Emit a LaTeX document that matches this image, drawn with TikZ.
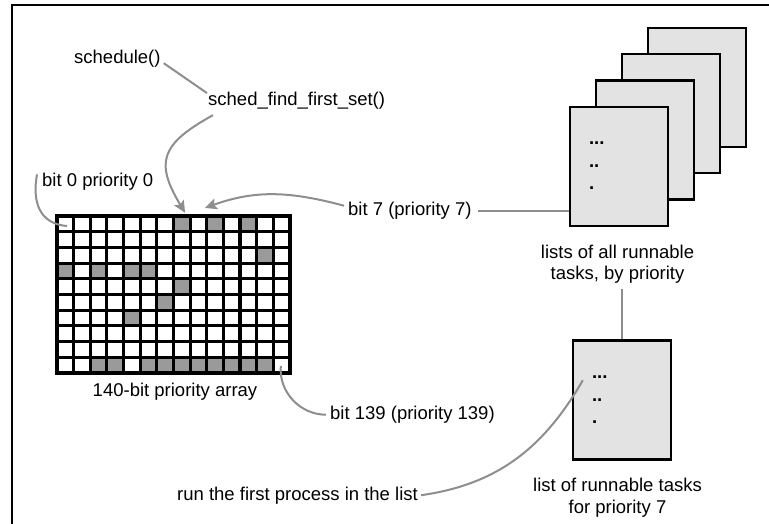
\documentclass[tikz,border=0pt]{standalone}
\usepackage{fontspec}
\setmainfont{Liberation Sans}
\usetikzlibrary{arrows.meta,calc}
\definecolor{cellgray}{HTML}{9A9A9A}
\definecolor{boxfill}{HTML}{E3E3E3}
\definecolor{wirecol}{HTML}{8E8E8E}

\begin{document}
\begin{tikzpicture}[x=1pt,y=-1pt,
  every node/.style={font=\fontsize{18.5}{21}\selectfont, inner sep=0pt},
  txt/.style={anchor=base west},
  wire/.style={draw=wirecol, line width=2pt},
  arrowed/.style={-{Stealth[length=12pt,width=11pt,inset=2.5pt]}},
  listbox/.style={draw=black, line width=2.4pt, fill=boxfill,
                  minimum width=98pt, minimum height=119pt},
  dots/.style={anchor=base west, font=\fontsize{18.5}{21}\selectfont\bfseries}
]
\useasboundingbox (0,0) rectangle (769,524);

% frame
\draw[line width=1.6pt] (12,524) -- (12,5) -- (769,5);

% 140-bit priority array: 14 columns x 10 rows
\begin{scope}[shift={(57,216)}, x=16.64pt, y=-15.7pt]
  \foreach \r/\c in {0/7,0/9,0/11,2/12,3/0,3/2,3/4,3/5,4/7,5/6,6/4,
                     9/2,9/3,9/5,9/6,9/7,9/8,9/9,9/10,9/11,9/12}
    \fill[cellgray] (\c,\r) rectangle ++(1,1);
  \foreach \i in {1,...,13} \draw[line width=3.1pt] (\i,0) -- (\i,10);
  \foreach \j in {1,...,9} \draw[line width=3.1pt] (0,\j) -- (14,\j);
  \draw[line width=3.2pt] (0,0) rectangle (14,10);
  \coordinate (cellA) at (0.6,0.64);
  \coordinate (cellB) at (13.45,9.55);
  \coordinate (tipA) at (7.7,-0.2);
  \coordinate (tipB) at (8.89,-0.51);
\end{scope}

% stacked priority lists
\node[listbox] (stackd) at (697,87.5) {};
\node[listbox] (stackc) at (671,113.5) {};
\node[listbox] (stackb) at (645,140) {};
\node[listbox] (front) at (619,166.5) {};
\node[dots] (fa) at ($(front.north west)+(20,39)$) {...};
\node[dots] (fb) at ($(front.north west)+(20,62)$) {..};
\node[dots] (fc) at ($(front.north west)+(20,84)$) {.};

% the single list for priority 7
\node[listbox] (onebox) at (622,400) {};
\node[dots] (oa) at ($(onebox.north west)+(20,39)$) {...};
\node[dots] (ob) at ($(onebox.north west)+(20,62)$) {..};
\node[dots] (oc) at ($(onebox.north west)+(20,84)$) {.};
\coordinate (runtip) at ($(onebox.north west)+(11,41)$);

% labels
\node[txt] (sched) at (74,64) {schedule()};
\node[txt] (ffs) at (208,105.7) {sched\_find\_first\_set()};
\node[txt] (bitzero) at (42,186) {bit 0 priority 0};
\node[txt] (bitseven) at (348,215.5) {bit 7 (priority 7)};
\node[anchor=base] (arraycap) at (175,396.5) {140-bit priority array};
\node[txt] (bitlast) at (330,419.5) {bit 139 (priority 139)};
\node[txt] (runfirst) at (177,500) {run the first process in the list};
\node[anchor=north, align=center] (allcap) at (617.5,244.5)
  {lists of all runnable\\tasks, by priority};
\node[anchor=north, align=center, font=\fontsize{18.5}{22}\selectfont] (onecap)
  at (617.5,478) {list of runnable tasks\\for priority 7};

% connectors
\draw[wire] ([xshift=3pt,yshift=-4pt]sched.east) -- ([xshift=-1pt,yshift=-1pt]ffs.north west);
\draw[wire,arrowed] ([xshift=5pt,yshift=-5.4pt]ffs.south west)
  to[out=209,in=121,looseness=1.5] (tipA);
\draw[wire,arrowed] ([xshift=-4pt,yshift=5pt]bitseven.west) to[out=165,in=20] (tipB);
\draw[wire] ([xshift=-5pt,yshift=-2pt]bitzero.north west)
  to[out=260,in=175,looseness=1.2] (cellA);
\draw[wire] (cellB) to[out=265,in=180] ([xshift=-4pt]bitlast.west);
\draw[wire] ([xshift=6pt]bitseven.east) -- (bitseven.east -| front.west);
\coordinate (capfoot) at ([yshift=-5.5pt]allcap.south);
\draw[wire] (onebox.north |- capfoot) -- (onebox.north);
\draw[wire] ([xshift=3pt]runfirst.east) to[out=8,in=240] (runtip);
\end{tikzpicture}
\end{document}
